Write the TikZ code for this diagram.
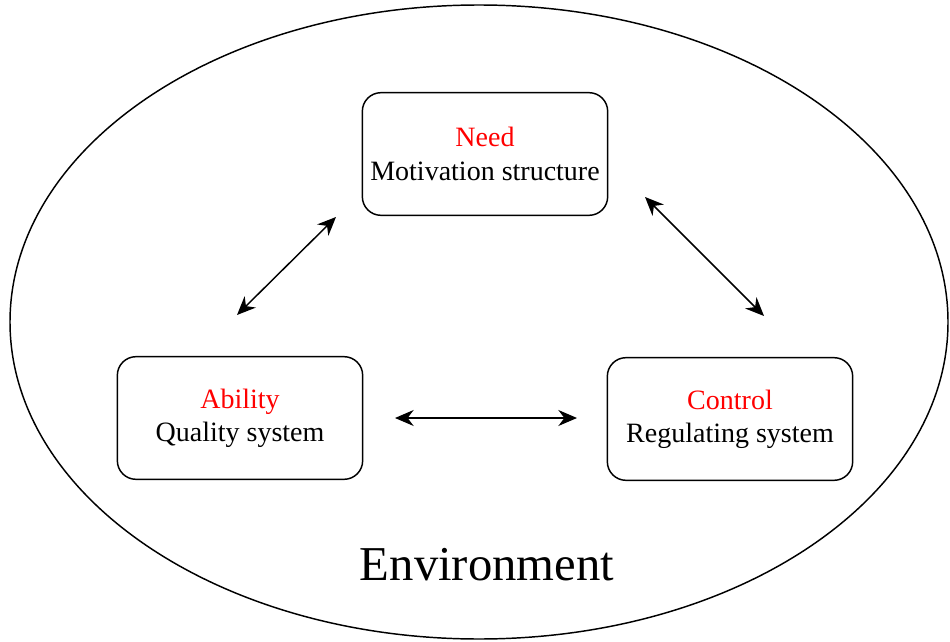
\documentclass[tikz,border=0pt]{standalone}
\usepackage{fontspec}
\setmainfont{Liberation Serif}
\usetikzlibrary{arrows.meta}
\tikzset{
  sysbox/.style={draw,line width=1.1pt,rounded corners=14pt,minimum width=184pt,minimum height=92pt,
    align=center,font=\fontsize{21}{25}\selectfont},
  link/.style={{Stealth[length=14pt,width=12pt]}-{Stealth[length=14pt,width=12pt]},line width=1.1pt},
}
\begin{document}
\begin{tikzpicture}[x=0.75pt,y=-0.75pt]
\useasboundingbox (0,0) rectangle (950,642);
\draw[line width=1.1pt] (479,322) ellipse [x radius=469,y radius=317];
\node[sysbox] (need) at (485,154) {\textcolor{red}{Need}\\Motivation structure};
\node[sysbox] (ability) at (240,418) {\textcolor{red}{Ability}\\Quality system};
\node[sysbox] (control) at (730,419) {\textcolor{red}{Control}\\Regulating system};
\node[font=\fontsize{36.5}{42}\selectfont] (env) at (487,565) {Environment};
\coordinate (an1) at (237,315); \coordinate (an2) at (336,217);
\coordinate (nc1) at (645,197); \coordinate (nc2) at (764,316);
\coordinate (ac1) at (395,418); \coordinate (ac2) at (577,418);
\draw[link] (an1)--(an2);
\draw[link] (nc1)--(nc2);
\draw[link] (ac1)--(ac2);
\end{tikzpicture}
\end{document}
